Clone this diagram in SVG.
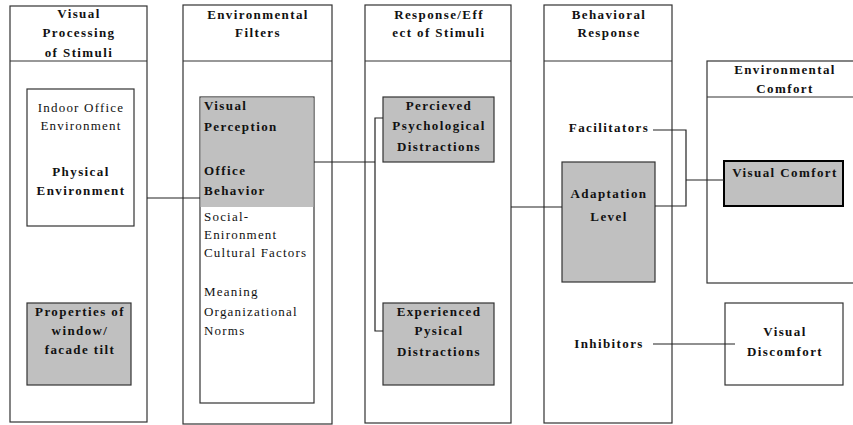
<svg xmlns="http://www.w3.org/2000/svg" width="853" height="425" viewBox="0 0 853 425">
<style>
  .col{fill:#fff;stroke:#333;stroke-width:1.2}
  .box{fill:#fff;stroke:#333;stroke-width:1.2}
  .grey{fill:#c0c0c0;stroke:#333;stroke-width:1.2}
  .div{stroke:#333;stroke-width:1.2}
  .ln{stroke:#222;stroke-width:1.2;fill:none}
  text{font-family:"Liberation Serif","DejaVu Serif",serif;font-size:13px;fill:#111}
  .b{font-weight:bold;letter-spacing:1.4px}
  .r{letter-spacing:1.2px}
  .m{text-anchor:middle}
</style>
<rect width="853" height="425" fill="#fff"/>

<g id="col-visual-processing">
  <rect class="col" x="10" y="6" width="137" height="416"/>
  <line class="div" x1="10" y1="61" x2="147" y2="61"/>
  <text class="b m" x="79" y="18">Visual</text>
  <text class="b m" x="79" y="37">Processing</text>
  <text class="b m" x="79" y="57">of Stimuli</text>
</g>
<g id="node-physical-environment">
  <rect class="box" x="27" y="89" width="107" height="137"/>
  <text class="r m" x="81" y="112">Indoor Office</text>
  <text class="r m" x="81" y="130">Environment</text>
  <text class="b m" x="81" y="176">Physical</text>
  <text class="b m" x="81" y="195">Environment</text>
</g>
<g id="node-properties">
  <rect class="grey" x="27" y="303" width="104" height="82"/>
  <text class="b m" x="80" y="316">Properties of</text>
  <text class="b m" x="80" y="335">window/</text>
  <text class="b m" x="80" y="354">facade tilt</text>
</g>

<g id="col-environmental-filters">
  <rect class="col" x="183" y="5" width="149" height="419"/>
  <line class="div" x1="183" y1="61" x2="332" y2="61"/>
  <text class="b m" x="258" y="19">Environmental</text>
  <text class="b m" x="258" y="37">Filters</text>
</g>
<g id="node-filters">
  <rect class="box" x="200" y="97" width="114" height="306"/>
  <rect x="200.6" y="97.6" width="112.8" height="109.4" fill="#c0c0c0"/>
  <text class="b" x="204" y="110">Visual</text>
  <text class="b" x="204" y="131">Perception</text>
  <text class="b" x="204" y="175">Office</text>
  <text class="b" x="204" y="195">Behavior</text>
  <text class="r" x="204" y="221">Social-</text>
  <text class="r" x="204" y="239">Enironment</text>
  <text class="r" x="204" y="257">Cultural Factors</text>
  <text class="r" x="204" y="296">Meaning</text>
  <text class="r" x="204" y="316">Organizational</text>
  <text class="r" x="204" y="335">Norms</text>
</g>

<g id="col-response-effect">
  <rect class="col" x="365" y="5" width="146" height="418"/>
  <line class="div" x1="365" y1="61" x2="511" y2="61"/>
  <text class="b m" x="439" y="19">Response/Eff</text>
  <text class="b m" x="439" y="37">ect of Stimuli</text>
</g>
<g id="node-perceived">
  <rect class="grey" x="383" y="97" width="111" height="65"/>
  <text class="b m" x="439" y="110">Percieved</text>
  <text class="b m" x="439" y="130">Psychological</text>
  <text class="b m" x="439" y="151">Distractions</text>
</g>
<g id="node-experienced">
  <rect class="grey" x="383" y="303" width="111" height="82"/>
  <text class="b m" x="439" y="316">Experienced</text>
  <text class="b m" x="439" y="335">Pysical</text>
  <text class="b m" x="439" y="356">Distractions</text>
</g>

<g id="col-behavioral-response">
  <rect class="col" x="544" y="5" width="128" height="418"/>
  <line class="div" x1="544" y1="61" x2="672" y2="61"/>
  <text class="b m" x="609" y="19">Behavioral</text>
  <text class="b m" x="609" y="37">Response</text>
</g>
<g id="node-facilitators">
  <text class="b m" x="609" y="132">Facilitators</text>
</g>
<g id="node-adaptation">
  <rect class="grey" x="562" y="162" width="93" height="120"/>
  <text class="b m" x="609" y="198">Adaptation</text>
  <text class="b m" x="609" y="221">Level</text>
</g>
<g id="node-inhibitors">
  <text class="b m" x="609" y="348">Inhibitors</text>
</g>

<g id="col-environmental-comfort">
  <rect class="col" x="707" y="61" width="152" height="222"/>
  <line class="div" x1="707" y1="97" x2="853" y2="97"/>
  <text class="b m" x="785" y="74">Environmental</text>
  <text class="b m" x="785" y="93">Comfort</text>
</g>
<g id="node-visual-comfort">
  <rect x="724" y="161" width="119" height="45" fill="#c0c0c0" stroke="#000" stroke-width="2"/>
  <text class="b m" x="785" y="177">Visual Comfort</text>
</g>
<g id="node-visual-discomfort">
  <rect class="box" x="725" y="303" width="118" height="82"/>
  <text class="b m" x="785" y="336">Visual</text>
  <text class="b m" x="785" y="356">Discomfort</text>
</g>

<g id="connectors">
  <line class="ln" x1="147" y1="198" x2="200" y2="198"/>
  <line class="ln" x1="314" y1="162" x2="375" y2="162"/>
  <polyline class="ln" points="383,118 375,118 375,331 383,331"/>
  <line class="ln" x1="511" y1="207" x2="562" y2="207"/>
  <polyline class="ln" points="653,130 686,130 686,206 655,206"/>
  <line class="ln" x1="686" y1="180" x2="724" y2="180"/>
  <line class="ln" x1="653" y1="344" x2="735" y2="344"/>
</g>
</svg>
